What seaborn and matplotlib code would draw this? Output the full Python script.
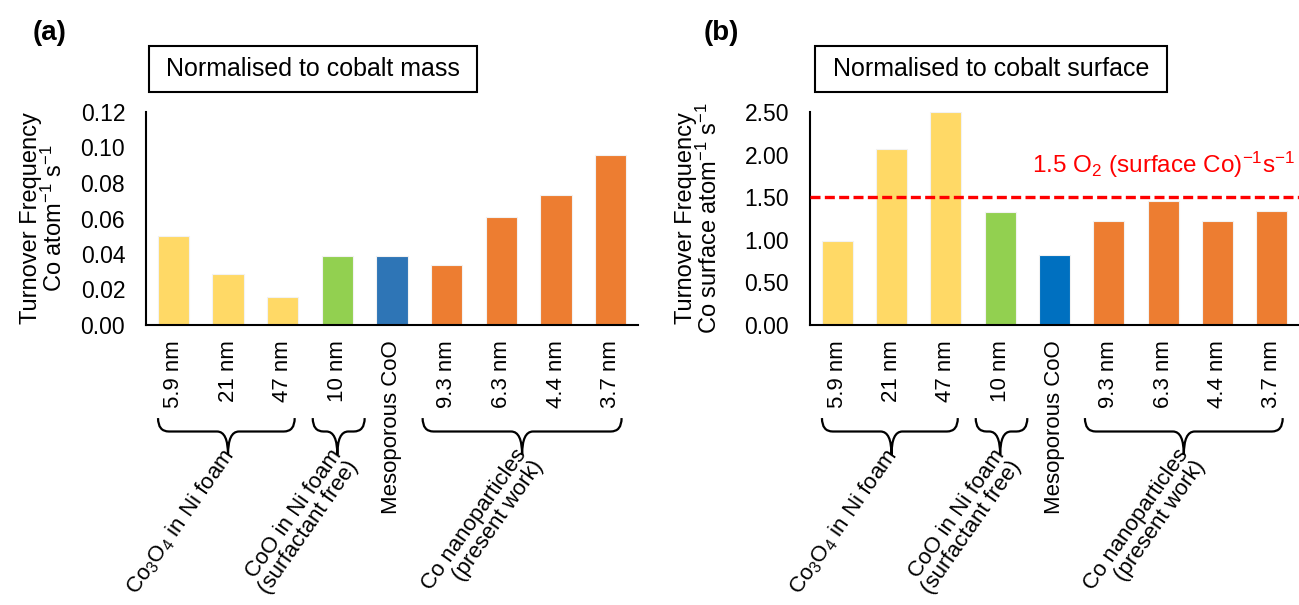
import numpy as np
import pandas as pd
import seaborn as sns
import matplotlib.pyplot as plt
from matplotlib.path import Path
from matplotlib.patches import PathPatch, Rectangle
from matplotlib.transforms import blended_transform_factory

# data
labels = ["5.9 nm", "21 nm", "47 nm", "10 nm", "Mesoporous CoO",
          "9.3 nm", "6.3 nm", "4.4 nm", "3.7 nm"]
tof_mass = [0.050, 0.029, 0.016, 0.039, 0.039, 0.034, 0.061, 0.073, 0.096]
tof_surface = [0.99, 2.06, 2.50, 1.33, 0.82, 1.22, 1.46, 1.22, 1.34]
colors_mass = ["#FFD966", "#FFD966", "#FFD966", "#92D050", "#2E75B6",
               "#ED7D31", "#ED7D31", "#ED7D31", "#ED7D31"]
colors_surface = ["#FFD966", "#FFD966", "#FFD966", "#92D050", "#0070C0",
                  "#ED7D31", "#ED7D31", "#ED7D31", "#ED7D31"]
group_names = ["Co$_3$O$_4$ in Ni foam",
               "CoO in Ni foam\n(surfactant free)",
               "Co nanoparticles\n(present work)"]
ref_tof = 1.5

sns.set_theme(style="white", rc={"text.color": "black", "axes.labelcolor": "black",
                                 "xtick.color": "black", "ytick.color": "black"})
plt.rcParams['font.family'] = ['Liberation Sans', 'DejaVu Sans']
plt.rcParams['mathtext.default'] = 'regular'

W, H = 1299, 605
fig = plt.figure(figsize=(W / 100, H / 100), dpi=100)
ax_a = fig.add_axes([146 / W, 1 - 325 / H, 492 / W, 213 / H])
ax_b = fig.add_axes([810 / W, 1 - 325 / H, 489 / W, 213 / H])


def draw_brace(ax, x0, x1, xm, yt=-0.437, ym=-0.50, ytip=-0.61, r=0.2):
    trans = blended_transform_factory(ax.transData, ax.transAxes)
    verts = [(x0, yt), (x0, ym), (x0 + r, ym), (xm - r, ym), (xm, ym), (xm, ytip),
             (xm, ym), (xm + r, ym), (x1 - r, ym), (x1, ym), (x1, yt)]
    codes = [Path.MOVETO, Path.CURVE3, Path.CURVE3, Path.LINETO, Path.CURVE3, Path.CURVE3,
             Path.CURVE3, Path.CURVE3, Path.LINETO, Path.CURVE3, Path.CURVE3]
    ax.add_patch(PathPatch(Path(verts, codes), transform=trans, fill=False,
                           lw=1.6, color="black", clip_on=False))


def style_panel(ax, values, colors, ymax, step, ylabel, label_x):
    df = pd.DataFrame({"sample": labels, "tof": values})
    sns.barplot(data=df, x="sample", y="tof", hue="sample", order=labels,
                palette=dict(zip(labels, colors)), legend=False, width=0.57,
                saturation=1, edgecolor="#f2f2f2", linewidth=0.8, ax=ax)
    ax.set_xlim(-0.5, 8.5)
    ax.set_ylim(0, ymax)
    ticks = np.arange(0, ymax + step / 2, step)
    ax.set_yticks(ticks)
    ax.set_yticklabels([f"{v:.2f}" for v in ticks])
    ax.tick_params(axis="y", length=0, pad=15, labelsize=16.5)
    ax.tick_params(axis="x", length=0, pad=11, labelsize=16, labelrotation=90)
    ax.set_xlabel("")
    ax.set_ylabel(ylabel, fontsize=17, linespacing=1.0)
    ax.yaxis.set_label_coords(label_x, 0.5)
    for s in ["top", "right"]:
        ax.spines[s].set_visible(False)
    for s in ["left", "bottom"]:
        ax.spines[s].set_color("black")
        ax.spines[s].set_linewidth(1.5)

    # group braces and labels
    spans = [(-0.28, 2.22, 1.0), (2.55, 3.5, 3.0), (4.56, 8.2, 6.38)]
    trans = blended_transform_factory(ax.transData, ax.transAxes)
    for (x0, x1, xm), name in zip(spans, group_names):
        draw_brace(ax, x0, x1, xm)
        ax.text(xm - 0.15, -0.565, name, transform=trans, rotation=55,
                rotation_mode="anchor", ha="right", va="top",
                multialignment="right", fontsize=16, linespacing=0.95)


style_panel(ax_a, tof_mass, colors_mass, 0.12, 0.02,
            "Turnover Frequency\nCo atom$^{-1}$ s$^{-1}$", -0.16)
style_panel(ax_b, tof_surface, colors_surface, 2.5, 0.5,
            "Turnover Frequency\nCo surface atom$^{-1}$ s$^{-1}$", -0.18)

ax_b.axhline(ref_tof, color="#FF0000", lw=2.4, ls=(0, (3, 1.3)), zorder=5, clip_on=False)
ax_b.text(0.992, 0.75, "1.5 O$_2$ (surface Co)$^{-1}$s$^{-1}$", transform=ax_b.transAxes,
          ha="right", va="center", color="#FF0000", fontsize=17.5)

# title boxes
for (x0, x1), title in zip([(149, 477), (815, 1167)],
                           ["Normalised to cobalt mass", "Normalised to cobalt surface"]):
    fig.add_artist(Rectangle((x0 / W, 1 - 92 / H), (x1 - x0) / W, 46 / H,
                             transform=fig.transFigure, fill=False, ec="black", lw=1.5))
    fig.text((x0 + x1) / 2 / W, 1 - 69 / H, title, ha="center", va="center", fontsize=18)

fig.text(50 / W, 1 - 33 / H, "(a)", ha="center", va="center", fontsize=20, fontweight="bold")
fig.text(721 / W, 1 - 33 / H, "(b)", ha="center", va="center", fontsize=20, fontweight="bold")

fig.savefig("out.png", dpi=100)
